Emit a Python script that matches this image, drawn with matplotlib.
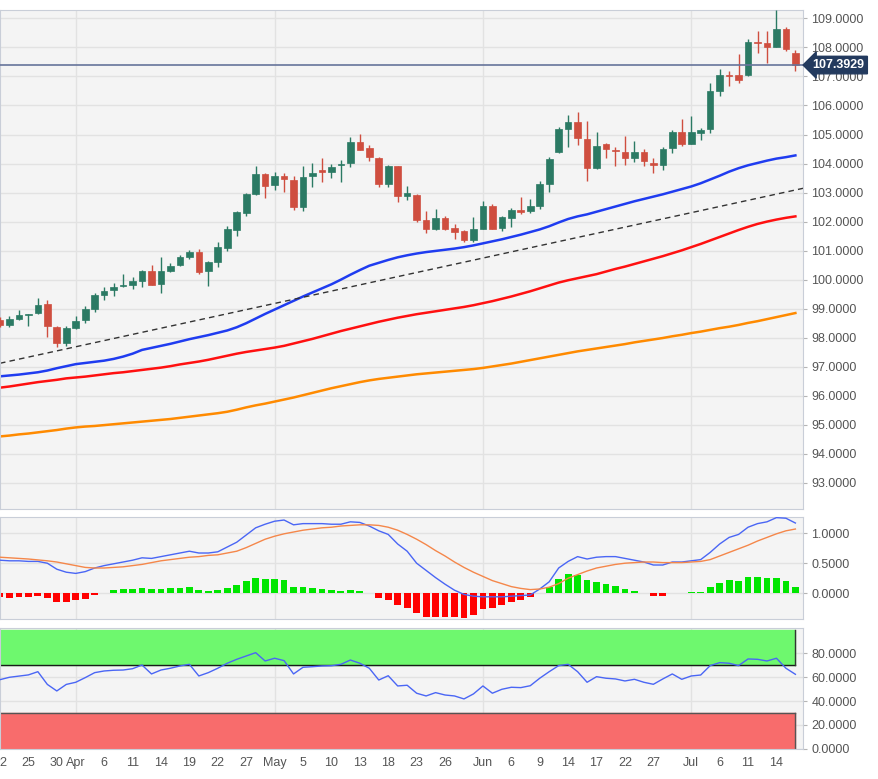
import numpy as np
import pandas as pd
import matplotlib
matplotlib.use('Agg')
import matplotlib.pyplot as plt
import matplotlib.transforms as mtransforms
from matplotlib.ticker import FormatStrFormatter

plt.rcParams['font.family'] = ['Liberation Sans', 'DejaVu Sans']

# daily bars, 22 Mar 2022 .. 18 Jul 2022 (weekdays)
dates = pd.bdate_range('2022-03-22', '2022-07-18')

opens = [98.62, 98.44, 98.66, 98.78, 98.85, 99.17, 98.38, 97.83, 98.35, 98.60,
         98.98, 99.48, 99.65, 99.77, 99.82, 99.97, 100.31, 99.85, 100.31, 100.51,
         100.77, 100.97, 100.31, 100.62, 101.08, 101.71, 102.31, 102.94, 103.64, 103.26,
         103.58, 103.44, 102.50, 103.56, 103.78, 103.70, 103.96, 104.01, 104.74, 104.53,
         104.20, 103.29, 103.90, 102.89, 102.93, 102.06, 101.75, 102.11, 101.77, 101.68,
         101.35, 101.76, 102.54, 101.77, 102.12, 102.40, 102.35, 102.54, 103.30, 104.41,
         105.19, 105.44, 104.84, 103.83, 104.66, 104.46, 104.41, 104.20, 104.39, 104.02,
         103.95, 104.53, 105.08, 104.68, 105.05, 105.19, 106.51, 107.05, 107.05, 107.05,
         108.20, 108.15, 108.01, 108.63, 107.82]
highs = [98.72, 98.75, 98.96, 98.82, 99.36, 99.30, 98.41, 98.41, 98.75, 99.10,
         99.55, 99.76, 99.88, 100.19, 100.10, 100.34, 100.50, 100.77, 100.59, 100.85,
         101.03, 101.05, 100.65, 101.31, 101.86, 102.37, 103.00, 103.93, 103.67, 103.72,
         103.67, 103.57, 103.92, 104.03, 104.18, 103.98, 104.12, 104.93, 105.02, 104.64,
         104.22, 103.94, 103.92, 103.23, 102.95, 102.35, 102.44, 102.20, 101.92, 101.70,
         102.15, 102.72, 102.60, 102.20, 102.46, 102.84, 102.77, 103.40, 104.22, 105.27,
         105.68, 105.79, 105.48, 105.08, 104.72, 104.57, 104.95, 104.76, 104.50, 104.18,
         104.58, 105.16, 105.54, 105.64, 105.24, 106.77, 107.25, 107.20, 107.77, 108.28,
         108.56, 108.58, 109.29, 108.70, 107.91]
lows = [98.38, 98.36, 98.62, 98.41, 98.82, 98.02, 97.67, 97.72, 98.31, 98.52,
        98.90, 99.30, 99.42, 99.74, 99.67, 99.76, 99.80, 99.55, 100.28, 100.47,
        100.70, 100.20, 99.79, 100.45, 101.00, 101.50, 102.20, 102.90, 102.81, 103.10,
        103.03, 102.40, 102.35, 103.19, 103.38, 103.50, 103.38, 103.87, 104.45, 104.10,
        103.20, 103.19, 102.66, 102.75, 102.00, 101.62, 101.72, 101.70, 101.40, 101.30,
        101.30, 101.75, 101.74, 101.66, 101.83, 102.27, 102.29, 102.45, 103.03, 104.38,
        104.58, 104.64, 103.41, 103.80, 104.18, 103.92, 103.95, 104.05, 103.93, 103.67,
        103.78, 104.36, 104.62, 104.66, 104.81, 105.05, 106.33, 106.67, 106.77, 107.03,
        107.82, 107.46, 108.00, 107.89, 107.19]
closes = [98.45, 98.64, 98.79, 98.80, 99.13, 98.42, 97.83, 98.35, 98.56, 98.98,
          99.47, 99.62, 99.76, 99.82, 99.97, 100.31, 99.82, 100.30, 100.47, 100.77,
          100.96, 100.28, 100.62, 101.12, 101.74, 102.33, 102.95, 103.64, 103.21, 103.57,
          103.47, 102.50, 103.55, 103.66, 103.71, 103.89, 104.00, 104.74, 104.47, 104.22,
          103.29, 103.92, 102.89, 103.00, 102.06, 101.76, 102.11, 101.75, 101.63, 101.35,
          101.76, 102.54, 101.76, 102.17, 102.40, 102.33, 102.54, 103.29, 104.15, 105.19,
          105.44, 104.87, 103.83, 104.62, 104.49, 104.42, 104.20, 104.41, 104.09, 103.96,
          104.50, 105.08, 104.67, 105.08, 105.16, 106.50, 107.05, 107.02, 106.88, 108.20,
          108.15, 108.03, 108.63, 107.94, 107.39]

sma_blue = [96.67, 96.70, 96.73, 96.77, 96.81, 96.87, 96.95, 97.02, 97.09, 97.13,
            97.17, 97.21, 97.27, 97.35, 97.45, 97.58, 97.65, 97.72, 97.79, 97.87,
            97.95, 98.02, 98.09, 98.17, 98.25, 98.36, 98.50, 98.66, 98.82, 98.97,
            99.12, 99.27, 99.42, 99.56, 99.70, 99.84, 100.00, 100.17, 100.33, 100.48,
            100.58, 100.68, 100.77, 100.84, 100.90, 100.95, 100.99, 101.03, 101.07, 101.12,
            101.18, 101.25, 101.32, 101.39, 101.47, 101.55, 101.64, 101.73, 101.84, 101.97,
            102.09, 102.18, 102.25, 102.34, 102.43, 102.52, 102.61, 102.70, 102.78, 102.86,
            102.94, 103.03, 103.12, 103.21, 103.32, 103.45, 103.58, 103.72, 103.84, 103.94,
            104.02, 104.10, 104.17, 104.22, 104.28]
sma_red = [96.28, 96.32, 96.37, 96.42, 96.47, 96.51, 96.55, 96.60, 96.63, 96.66,
           96.70, 96.74, 96.78, 96.81, 96.85, 96.89, 96.93, 96.97, 97.02, 97.08,
           97.13, 97.18, 97.24, 97.31, 97.38, 97.45, 97.51, 97.56, 97.61, 97.66,
           97.72, 97.80, 97.88, 97.96, 98.05, 98.14, 98.23, 98.31, 98.39, 98.47,
           98.55, 98.62, 98.69, 98.75, 98.81, 98.86, 98.91, 98.96, 99.01, 99.06,
           99.12, 99.19, 99.26, 99.34, 99.42, 99.51, 99.60, 99.70, 99.80, 99.90,
           99.98, 100.05, 100.12, 100.19, 100.28, 100.37, 100.45, 100.54, 100.63, 100.72,
           100.81, 100.91, 101.01, 101.12, 101.23, 101.35, 101.47, 101.59, 101.71, 101.82,
           101.92, 102.00, 102.07, 102.13, 102.18]
sma_orange = [94.60, 94.63, 94.67, 94.70, 94.74, 94.78, 94.82, 94.87, 94.91, 94.94,
              94.96, 94.99, 95.02, 95.05, 95.08, 95.11, 95.14, 95.17, 95.20, 95.24,
              95.28, 95.32, 95.36, 95.40, 95.45, 95.52, 95.60, 95.67, 95.73, 95.80,
              95.87, 95.94, 96.02, 96.10, 96.18, 96.26, 96.33, 96.40, 96.47, 96.53,
              96.58, 96.62, 96.66, 96.70, 96.74, 96.77, 96.80, 96.83, 96.86, 96.89,
              96.92, 96.96, 97.01, 97.06, 97.11, 97.17, 97.23, 97.29, 97.35, 97.41,
              97.47, 97.53, 97.58, 97.63, 97.68, 97.73, 97.78, 97.84, 97.89, 97.94,
              97.99, 98.05, 98.10, 98.16, 98.21, 98.27, 98.33, 98.38, 98.44, 98.51,
              98.57, 98.64, 98.71, 98.78, 98.85]

trend_dates = ['2022-03-22', '2022-07-19']
trend_vals = [97.12, 103.16]
last_price = 107.3929

macd = [0.55, 0.54, 0.54, 0.53, 0.53, 0.50, 0.40, 0.35, 0.33, 0.36,
        0.42, 0.46, 0.49, 0.52, 0.55, 0.59, 0.58, 0.61, 0.64, 0.67,
        0.70, 0.67, 0.67, 0.69, 0.77, 0.85, 0.97, 1.09, 1.15, 1.20,
        1.22, 1.14, 1.16, 1.16, 1.16, 1.15, 1.15, 1.19, 1.18, 1.12,
        1.04, 0.98, 0.82, 0.70, 0.50, 0.38, 0.26, 0.15, 0.05, -0.02,
        -0.05, -0.06, -0.06, -0.06, -0.05, -0.04, -0.03, 0.07, 0.19, 0.42,
        0.53, 0.61, 0.57, 0.60, 0.61, 0.61, 0.58, 0.55, 0.52, 0.47,
        0.47, 0.52, 0.52, 0.54, 0.56, 0.68, 0.82, 0.93, 0.98, 1.10,
        1.16, 1.19, 1.26, 1.25, 1.17]
signal = [0.60, 0.59, 0.58, 0.57, 0.555, 0.54, 0.52, 0.49, 0.46, 0.43,
          0.42, 0.42, 0.43, 0.44, 0.46, 0.48, 0.51, 0.54, 0.56, 0.58,
          0.60, 0.61, 0.63, 0.64, 0.67, 0.70, 0.76, 0.83, 0.90, 0.95,
          0.99, 1.02, 1.05, 1.07, 1.09, 1.10, 1.12, 1.13, 1.14, 1.14,
          1.13, 1.10, 1.05, 0.98, 0.90, 0.81, 0.71, 0.62, 0.52, 0.43,
          0.35, 0.28, 0.21, 0.16, 0.11, 0.08, 0.06, 0.07, 0.10, 0.16,
          0.25, 0.31, 0.37, 0.42, 0.45, 0.48, 0.50, 0.51, 0.52, 0.52,
          0.51, 0.51, 0.51, 0.52, 0.53, 0.56, 0.62, 0.68, 0.74, 0.80,
          0.87, 0.93, 0.99, 1.04, 1.07]
hist = [-0.07, -0.072, -0.067, -0.06, -0.04, -0.083, -0.14, -0.14, -0.12, -0.094,
        -0.033, 0.01, 0.055, 0.067, 0.072, 0.094, 0.067, 0.072, 0.083, 0.089,
        0.10, 0.056, 0.039, 0.05, 0.083, 0.139, 0.206, 0.26, 0.244, 0.244,
        0.217, 0.11, 0.10, 0.083, 0.067, 0.05, 0.039, 0.061, 0.044, 0.005,
        -0.083, -0.11, -0.20, -0.25, -0.33, -0.40, -0.40, -0.40, -0.405, -0.417,
        -0.36, -0.27, -0.25, -0.20, -0.15, -0.11, -0.067, 0.01, 0.11, 0.233,
        0.317, 0.306, 0.217, 0.194, 0.156, 0.117, 0.067, 0.044, 0.005, -0.04,
        -0.04, 0.005, 0.005, 0.017, 0.022, 0.10, 0.178, 0.217, 0.206, 0.267,
        0.278, 0.261, 0.261, 0.20, 0.10]
rsi = [58.0, 60.0, 61.0, 62.0, 64.7, 54.0, 48.5, 54.0, 55.8, 59.7,
       63.9, 65.3, 65.9, 66.1, 67.2, 70.3, 62.8, 66.1, 67.6, 69.5,
       70.9, 61.1, 63.9, 67.6, 71.8, 75.1, 77.9, 80.7, 73.7, 76.0,
       74.0, 62.8, 68.4, 68.9, 69.5, 69.7, 70.9, 74.5, 71.8, 67.6,
       57.7, 61.3, 52.7, 53.3, 46.6, 44.3, 47.1, 45.1, 44.3, 41.8,
       46.0, 52.7, 46.6, 49.9, 51.6, 51.3, 52.9, 59.2, 64.7, 69.8,
       70.9, 64.7, 55.8, 60.5, 59.2, 58.6, 56.9, 58.3, 55.8, 54.1,
       58.6, 62.8, 58.3, 61.1, 61.9, 69.8, 72.3, 71.8, 69.8, 75.4,
       75.1, 73.7, 76.0, 67.6, 62.5]

tick_dates = ['2022-03-22', '2022-03-25', '2022-03-30', '2022-04-01', '2022-04-06',
              '2022-04-11', '2022-04-14', '2022-04-19', '2022-04-22', '2022-04-27',
              '2022-05-02', '2022-05-05', '2022-05-10', '2022-05-13', '2022-05-18',
              '2022-05-23', '2022-05-26', '2022-06-01', '2022-06-06', '2022-06-09',
              '2022-06-14', '2022-06-17', '2022-06-22', '2022-06-27', '2022-07-01',
              '2022-07-06', '2022-07-11', '2022-07-14']
tick_labels = ['22', '25', '30', 'Apr', '6', '11', '14', '19', '22', '27',
               'May', '5', '10', '13', '18', '23', '26', 'Jun', '6', '9',
               '14', '17', '22', '27', 'Jul', '6', '11', '14']
month_dates = ['2022-04-01', '2022-05-02', '2022-06-01', '2022-07-01']


def xpos(d):
    return np.busday_count('2022-03-22', np.array(d, dtype='datetime64[D]'))


x = np.arange(len(dates))
GREEN = '#2b7a64'
RED = '#cf4e3f'
BG = '#f4f4f4'
GRID = '#e2e2e2'
SPINE = '#c9ced8'

fig = plt.figure(figsize=(8.79, 7.79), dpi=100)
ax1 = fig.add_axes([0.0, 0.3466, 0.9135, 0.6406])
ax2 = fig.add_axes([0.0, 0.2054, 0.9135, 0.1309])
ax3 = fig.add_axes([0.0, 0.0385, 0.9135, 0.1553])

for ax in (ax1, ax2, ax3):
    ax.set_facecolor(BG)
    ax.set_xlim(0.28, 84.8)
    ax.yaxis.tick_right()
    ax.tick_params(axis='y', length=3, color='#b5b5b5', labelsize=9,
                   labelcolor='#555555', pad=3)
    ax.tick_params(axis='x', length=0)
    for s in ax.spines.values():
        s.set_color(SPINE)
    for m in month_dates:
        ax.axvline(xpos(m), color=GRID, lw=1, zorder=0)
    ax.grid(axis='y', color=GRID, lw=1, zorder=0)
    ax.set_axisbelow(True)
    ax.set_xticks(xpos(tick_dates))
    ax.set_xticklabels([])

# price panel
for i in range(len(x)):
    col = GREEN if closes[i] >= opens[i] else RED
    ax1.vlines(x[i], lows[i], highs[i], color=col, lw=1, zorder=3)
    lo = min(opens[i], closes[i])
    h = max(abs(closes[i] - opens[i]), 0.035)
    ax1.bar(x[i], h, bottom=lo, width=0.7, color=col, edgecolor=col, lw=0.5, zorder=4)

ax1.plot(x, sma_orange, color='#ff8a00', lw=1.8, zorder=2)
ax1.plot(x, sma_red, color='#ff1010', lw=1.8, zorder=2)
ax1.plot(x, sma_blue, color='#1f3cf0', lw=1.8, zorder=2)
ax1.plot(xpos(trend_dates), trend_vals, color='#333333', lw=1, ls=(0, (4, 3)), zorder=2)
ax1.axhline(last_price, color='#66749a', lw=1.2, zorder=5)

ax1.set_ylim(92.1, 109.29)
ax1.set_yticks(np.arange(93, 110, 1))
ax1.yaxis.set_major_formatter(FormatStrFormatter('%.4f'))
tr = mtransforms.blended_transform_factory(ax1.transAxes, ax1.transData)
ax1.text(1.012, last_price, '%.4f' % last_price, transform=tr, ha='left', va='center',
         color='white', fontsize=9, fontweight='bold', zorder=10, clip_on=False,
         bbox=dict(boxstyle='larrow,pad=0.22', fc='#233a5e', ec='#233a5e'))

# MACD panel
hcol = ['#00e600' if v >= 0 else '#ff0000' for v in hist]
ax2.bar(x, hist, width=0.72, color=hcol, zorder=2)
ax2.plot(x, macd, color='#4a66f5', lw=1, zorder=3)
ax2.plot(x, signal, color='#f5874a', lw=1, zorder=3)
ax2.set_ylim(-0.43, 1.27)
ax2.set_yticks([0.0, 0.5, 1.0])
ax2.yaxis.set_major_formatter(FormatStrFormatter('%.4f'))

# RSI panel
xb = [x[0] - 1, x[-1]]
ax3.fill_between(xb, 70, 100, color='#6ef86e', zorder=1)
ax3.fill_between(xb, 0, 30, color='#f86c6c', zorder=1)
ax3.plot(xb, [70, 70], color='#1a1a1a', lw=1, zorder=2)
ax3.plot(xb, [30, 30], color='#555555', lw=1, zorder=2)
ax3.plot([x[-1], x[-1]], [70, 100], color='#333333', lw=1, zorder=2)
ax3.plot([x[-1], x[-1]], [0, 30], color='#555555', lw=1, zorder=2)
ax3.plot(x, rsi, color='#4a66f5', lw=1, zorder=3)
ax3.set_ylim(-0.3, 101.4)
ax3.set_yticks([0, 20, 40, 60, 80])
ax3.yaxis.set_major_formatter(FormatStrFormatter('%.4f'))
ax3.set_xticklabels(tick_labels)
ax3.tick_params(axis='x', labelsize=9, labelcolor='#555555', pad=6)

plt.savefig('out.png', dpi=100)
